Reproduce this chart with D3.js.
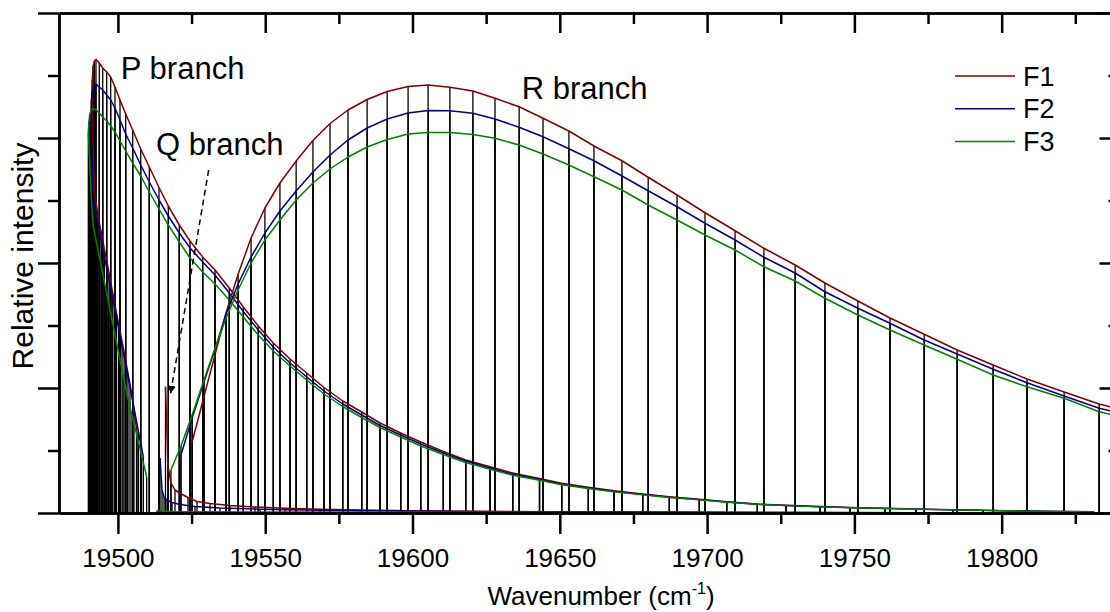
<!DOCTYPE html>
<html>
<head>
<meta charset="utf-8">
<script src="https://cdn.jsdelivr.net/npm/d3@7"></script>
<style>
  body { margin: 0; background: #fff; }
  svg { display: block; font-family: "Liberation Sans", Arial, sans-serif; }
</style>
</head>
<body>
<svg id="chart" width="1110" height="612"></svg>
<script>
// ---- data (wavenumber in cm-1, relative intensity) ----

// x axis ticks
var xMajor = [19500, 19550, 19600, 19650, 19700, 19750, 19800];
var xMinor = [19525, 19575, 19625, 19675, 19725, 19775, 19825];
var yMajor = [0, 1, 2, 3, 4];
var yMinor = [0.5, 1.5, 2.5, 3.5];

var seriesNames = ["F1", "F2", "F3"];

// P branch, low J lines running from the origin back to the head, then turning at the head
var pHeadPosF1 = [19506.5, 19505.0, 19503.4, 19502.1, 19500.7, 19499.5, 19498.3, 19497.3, 19496.3, 19495.4,
                  19494.6, 19493.9, 19493.2, 19492.7, 19492.2, 19491.9, 19491.6, 19491.4, 19491.3, 19491.2,
                  19491.3, 19491.6, 19492.05];
var pHeadIntF1 = [0.64, 0.904, 1.12, 1.288, 1.456, 1.6, 1.752, 1.88, 2.008, 2.112,
                  2.216, 2.296, 2.392, 2.464, 2.544, 2.704, 2.904, 3.104, 3.24, 3.344,
                  3.464, 3.576, 3.616];
var pHeadPosF2 = [19508.62, 19506.99, 19505.46, 19504.10, 19502.75, 19501.39, 19500.20, 19499.01, 19497.99, 19496.98,
                  19496.13, 19495.28, 19494.43, 19493.75, 19493.07, 19492.56, 19492.09, 19491.71, 19491.37, 19491.14,
                  19490.97, 19490.86, 19491.0, 19491.31, 19491.71, 19492.22];
var pHeadIntF2 = [0.45, 0.648, 0.84, 1.01, 1.176, 1.336, 1.48, 1.62, 1.744, 1.864,
                  1.968, 2.068, 2.168, 2.252, 2.336, 2.392, 2.452, 2.504, 2.664, 2.864,
                  3.04, 3.16, 3.304, 3.376, 3.416, 3.432];
var pHeadPosF3 = [19509.77, 19508.01, 19506.31, 19504.78, 19503.26, 19501.73, 19500.37, 19499.18, 19497.99, 19496.81,
                  19495.79, 19494.77, 19493.92, 19493.07, 19492.39, 19491.71, 19491.20, 19490.76, 19490.39, 19490.12,
                  19489.95, 19490.12, 19490.46, 19490.93, 19491.54];
var pHeadIntF3 = [0.29, 0.464, 0.632, 0.78, 0.932, 1.104, 1.264, 1.408, 1.544, 1.684,
                  1.804, 1.923, 2.024, 2.123, 2.203, 2.282, 2.424, 2.624, 2.824, 2.96,
                  3.04, 3.128, 3.192, 3.224, 3.236];

// P branch, high J lines after the head
var pTailPos = [19492.56, 19493.68, 19494.84, 19496.19, 19497.55, 19499.01, 19500.71, 19502.64, 19505.02, 19507.74,
                19510.66, 19513.95, 19517.11, 19520.84, 19524.47, 19528.78, 19532.96, 19537.81, 19542.57, 19547.66,
                19552.75, 19558.42, 19564.09, 19569.96, 19576.31, 19582.76, 19588.97, 19596.0, 19602.79, 19610.46,
                19618.07, 19626.32, 19634.02, 19643.12, 19650.66, 19659.69, 19668.41, 19678.15, 19687.19, 19697.37,
                19706.67, 19717.06, 19726.8, 19738.34, 19748.53, 19760.41, 19770.93, 19783.39, 19793.68, 19807.26,
                19818.8, 19831.36];
var pTailF1 = [3.628, 3.6, 3.56, 3.528, 3.488, 3.408, 3.304, 3.192, 3.064, 2.912,
               2.768, 2.604, 2.456, 2.304, 2.176, 2.048, 1.944, 1.8, 1.648, 1.496,
               1.36, 1.232, 1.12, 1.004, 0.896, 0.808, 0.72, 0.64, 0.568, 0.492,
               0.424, 0.37, 0.32, 0.276, 0.238, 0.206, 0.178, 0.152, 0.13, 0.11,
               0.09, 0.072, 0.062, 0.052, 0.044, 0.038, 0.032, 0.026, 0.022, 0.016,
               0.013, 0.01];
var pTailF2 = [3.432, 3.408, 3.384, 3.344, 3.304, 3.24, 3.144, 3.032, 2.92, 2.784,
               2.648, 2.504, 2.376, 2.24, 2.12, 2.008, 1.904, 1.76, 1.612, 1.464,
               1.328, 1.2, 1.088, 0.976, 0.872, 0.784, 0.7, 0.624, 0.552, 0.48,
               0.416, 0.36, 0.31, 0.268, 0.231, 0.2, 0.173, 0.148, 0.126, 0.107,
               0.088, 0.07, 0.06, 0.05, 0.043, 0.037, 0.031, 0.025, 0.021, 0.016,
               0.012, 0.01];
var pTailF3 = [3.224, 3.2, 3.168, 3.136, 3.096, 3.048, 2.976, 2.896, 2.8, 2.696,
               2.568, 2.432, 2.304, 2.168, 2.04, 1.928, 1.832, 1.704, 1.568, 1.424,
               1.296, 1.176, 1.064, 0.952, 0.852, 0.764, 0.684, 0.608, 0.536, 0.468,
               0.404, 0.35, 0.302, 0.262, 0.226, 0.196, 0.169, 0.145, 0.124, 0.105,
               0.086, 0.069, 0.059, 0.049, 0.042, 0.036, 0.03, 0.025, 0.021, 0.015,
               0.012, 0.009];

// R branch (null = no line for that component)
var rPos = [19518.0, 19521.4, 19525.2, 19529.2, 19533.0, 19536.7, 19540.8, 19545.2, 19549.9, 19555.0,
            19560.5, 19566.2, 19572.0, 19578.1, 19584.6, 19591.4, 19598.5, 19605.3, 19612.7, 19620.5,
            19628.0, 19636.2, 19644.3, 19653.1, 19661.6, 19671.1, 19680.0, 19689.8, 19699.3, 19709.5,
            19719.3, 19729.9, 19740.0, 19751.2, 19762.1, 19773.7, 19784.9, 19797.1, 19808.6, 19821.2,
            19833.1, 19845.3];
var rF1 = [null, null, 0.568, 0.93, 1.27, 1.6, 1.91, 2.2, 2.44, 2.64,
           2.816, 2.98, 3.116, 3.224, 3.308, 3.372, 3.412, 3.424, 3.406, 3.376,
           3.318, 3.25, 3.158, 3.056, 2.936, 2.818, 2.686, 2.544, 2.402, 2.258,
           2.118, 1.984, 1.84, 1.696, 1.56, 1.43, 1.304, 1.184, 1.072, 0.968,
           0.872, 0.80];
var rF2 = [null, 0.464, 0.76, 1.048, 1.312, 1.592, 1.832, 2.048, 2.24, 2.416,
           2.576, 2.728, 2.864, 2.984, 3.08, 3.152, 3.2, 3.22, 3.218, 3.198,
           3.152, 3.086, 3.01, 2.914, 2.818, 2.696, 2.578, 2.45, 2.318, 2.184,
           2.046, 1.92, 1.77, 1.638, 1.518, 1.384, 1.272, 1.15, 1.042, 0.936,
           0.838, 0.77];
var rF3 = [0.344, 0.536, 0.784, 1.064, 1.32, 1.56, 1.784, 2.0, 2.184, 2.344,
           2.504, 2.64, 2.752, 2.848, 2.928, 2.988, 3.032, 3.044, 3.044, 3.028,
           2.998, 2.944, 2.872, 2.784, 2.69, 2.584, 2.464, 2.344, 2.224, 2.104,
           1.97, 1.856, 1.718, 1.584, 1.464, 1.344, 1.23, 1.104, 1.01, 0.918,
           0.81, 0.745];

// Q branch
var qPosF1 = [19516.15, 19517.0, 19518.02, 19519.38, 19521.08, 19523.79, 19526.85, 19531.26, 19538.05, 19546.54,
              19556.72, 19568.6, 19582.18, 19599.16, 19619.53, 19643.29, 19670.45, 19701.0, 19734.95, 19772.29,
              19813.03, 19845.0];
var qIntF1 = [1.01, 0.376, 0.24, 0.184, 0.158, 0.124, 0.092, 0.076, 0.06, 0.048,
              0.038, 0.03, 0.024, 0.018, 0.014, 0.011, 0.008, 0.006, 0.004, 0.003,
              0.002, 0.002];
var qPosF2 = [19514.29, 19514.97, 19515.65, 19516.67, 19518.36, 19521.08, 19526.17, 19534.66, 19548.24, 19568.6,
              19595.76, 19629.71, 19670.45, 19717.98, 19772.29, 19830.0, 19845.0];
var qIntF2 = [0.44, 0.184, 0.128, 0.104, 0.084, 0.068, 0.052, 0.04, 0.03, 0.022,
              0.016, 0.011, 0.008, 0.005, 0.003, 0.002, 0.002];
var qPosF3 = [19513.27, 19514.5, 19516.0, 19518.0, 19522.0, 19530.0, 19545.0, 19570.0, 19610.0, 19670.0,
              19750.0, 19845.0];
var qIntF3 = [0.02, 0.016, 0.014, 0.012, 0.011, 0.01, 0.009, 0.008, 0.006, 0.004,
              0.003, 0.002];

// ---- styles ----
var colors = { F1: "#800000", F2: "#000080", F3: "#008000" };
var axisWidth = 2.5;

// ---- build series from the arrays ----
function zipPts(pos, val) {
  var out = [];
  pos.forEach(function (w, i) {
    if (val[i] != null) out.push({ w: w, v: val[i] });
  });
  return out;
}

var branches = [
  { name: "F1", pts: zipPts(pHeadPosF1.concat(pTailPos), pHeadIntF1.concat(pTailF1)) },
  { name: "F2", pts: zipPts(pHeadPosF2.concat(pTailPos), pHeadIntF2.concat(pTailF2)) },
  { name: "F3", pts: zipPts(pHeadPosF3.concat(pTailPos), pHeadIntF3.concat(pTailF3)) },
  { name: "F1", pts: zipPts(rPos, rF1) },
  { name: "F2", pts: zipPts(rPos, rF2) },
  { name: "F3", pts: zipPts(rPos, rF3) },
  { name: "F1", pts: zipPts(qPosF1, qIntF1) },
  { name: "F2", pts: zipPts(qPosF2, qIntF2) },
  { name: "F3", pts: zipPts(qPosF3, qIntF3) }
];

// ---- scales ----
var svg = d3.select("#chart");
var x = d3.scaleLinear().domain([19480, 19840]).range([59, 1119.5]);
var y = d3.scaleLinear().domain([0, 4]).range([513, 13]);

svg.append("clipPath").attr("id", "plotClip")
  .append("rect")
  .attr("x", x(19480)).attr("y", y(4))
  .attr("width", x(19840) - x(19480)).attr("height", y(0) - y(4));

var plot = svg.append("g").attr("clip-path", "url(#plotClip)");

// sticks - one per line per component
var allSticks = [];
branches.forEach(function (b) { allSticks = allSticks.concat(b.pts); });

plot.append("g")
  .selectAll("line")
  .data(allSticks)
  .enter().append("line")
  .attr("x1", function (d) { return x(d.w); })
  .attr("x2", function (d) { return x(d.w); })
  .attr("y1", y(0))
  .attr("y2", function (d) { return y(d.v); })
  .attr("stroke", "#000")
  .attr("stroke-width", 1.3);

// envelope curves
var line = d3.line()
  .x(function (d) { return x(d.w); })
  .y(function (d) { return y(d.v); });

plot.append("g")
  .selectAll("path")
  .data(branches)
  .enter().append("path")
  .attr("d", function (d) { return line(d.pts); })
  .attr("fill", "none")
  .attr("stroke", function (d) { return colors[d.name]; })
  .attr("stroke-width", 1.5)
  .attr("stroke-linejoin", "round");

// ---- axes ----
function styleAxis(g) {
  g.selectAll(".domain").attr("stroke-width", axisWidth);
  g.selectAll(".tick line").attr("stroke-width", axisWidth);
}

var gB = svg.append("g").attr("transform", "translate(0," + y(0) + ")");
gB.append("g").call(d3.axisBottom(x).tickValues(xMajor).tickSize(21).tickSizeOuter(0)
    .tickPadding(15).tickFormat(d3.format("d")))
  .call(styleAxis);
gB.append("g").call(d3.axisBottom(x).tickValues(xMinor).tickSize(11).tickSizeOuter(0).tickFormat(""))
  .call(styleAxis);
gB.selectAll("text").attr("font-size", 26).attr("font-family", "Liberation Sans, Arial, sans-serif").attr("fill", "#000");

var gT = svg.append("g").attr("transform", "translate(0," + y(4) + ")");
gT.append("g").call(d3.axisTop(x).tickValues(xMajor).tickSize(-20).tickSizeOuter(0).tickFormat("")).call(styleAxis);
gT.append("g").call(d3.axisTop(x).tickValues(xMinor).tickSize(-11).tickSizeOuter(0).tickFormat("")).call(styleAxis);

var gL = svg.append("g").attr("transform", "translate(" + x(19480) + ",0)");
gL.append("g").call(d3.axisLeft(y).tickValues(yMajor).tickSize(21).tickSizeOuter(0).tickFormat("")).call(styleAxis);
gL.append("g").call(d3.axisLeft(y).tickValues(yMinor).tickSize(11).tickSizeOuter(0).tickFormat("")).call(styleAxis);

var gR = svg.append("g").attr("transform", "translate(" + x(19840) + ",0)");
gR.append("g").call(d3.axisRight(y).tickValues(yMajor).tickSize(-20).tickSizeOuter(0).tickFormat("")).call(styleAxis);
gR.append("g").call(d3.axisRight(y).tickValues(yMinor).tickSize(-11).tickSizeOuter(0).tickFormat("")).call(styleAxis);

// axis titles
var xt = svg.append("text")
  .attr("x", 601).attr("y", 605)
  .attr("text-anchor", "middle")
  .attr("font-size", 26);
xt.append("tspan").text("Wavenumber (cm");
xt.append("tspan").attr("font-size", 16).attr("dy", -11).text("-1");
xt.append("tspan").attr("dy", 11).text(")");

svg.append("text")
  .attr("transform", "translate(33," + 256 + ") rotate(-90)")
  .attr("text-anchor", "middle")
  .attr("font-size", 30)
  .text("Relative intensity");

// branch labels
var labels = [
  { t: "P branch", w: 19501.0, v: 3.472 },
  { t: "Q branch", w: 19512.9, v: 2.864 },
  { t: "R branch", w: 19637.1, v: 3.31 }
];
svg.append("g").selectAll("text")
  .data(labels)
  .enter().append("text")
  .attr("x", function (d) { return x(d.w); })
  .attr("y", function (d) { return y(d.v); })
  .attr("font-size", 31)
  .text(function (d) { return d.t; });

// dashed arrow to the Q branch
svg.append("defs").append("marker")
  .attr("id", "arrowHead")
  .attr("viewBox", "0 0 10 10")
  .attr("refX", 9).attr("refY", 5)
  .attr("markerWidth", 8).attr("markerHeight", 8)
  .attr("markerUnits", "userSpaceOnUse")
  .attr("orient", "auto")
  .append("path").attr("d", "M0,0 L10,5 L0,10 z").attr("fill", "#000");

svg.append("line")
  .attr("x1", x(19530.8)).attr("y1", y(2.744))
  .attr("x2", x(19517.9)).attr("y2", y(0.96))
  .attr("stroke", "#000")
  .attr("stroke-width", 1.5)
  .attr("stroke-dasharray", "6,4")
  .attr("marker-end", "url(#arrowHead)");

// legend
var leg = svg.append("g").attr("transform", "translate(955,76)");
var legItem = leg.selectAll("g")
  .data(seriesNames)
  .enter().append("g")
  .attr("transform", function (d, i) { return "translate(0," + (i * 32.8) + ")"; });
legItem.append("line")
  .attr("x1", 0).attr("x2", 60)
  .attr("stroke", function (d) { return colors[d]; })
  .attr("stroke-width", 1.5);
legItem.append("text")
  .attr("x", 68).attr("y", 9.5)
  .attr("font-size", 27)
  .text(function (d) { return d; });
</script>
</body>
</html>
